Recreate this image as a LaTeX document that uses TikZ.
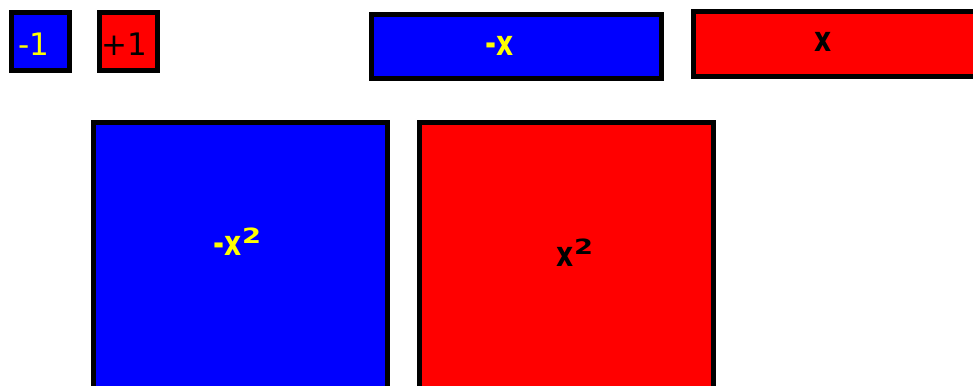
\documentclass[tikz,border=0pt]{standalone}
\usepackage{fontspec}
\usepackage{tikz}
\usetikzlibrary{positioning}
% Plain sans for the unit tiles, narrow bold sans for the variables.
\newfontfamily\numfont{DejaVu Sans}
\newfontfamily\varfont[FakeStretch=0.76]{DejaVu Sans}
\newfontfamily\supfont[FakeStretch=1.3]{DejaVu Sans}
\newcommand{\sqmark}{\raisebox{12pt}{\supfont\bfseries\fontsize{21}{21}\selectfont 2}}
\definecolor{tileblue}{RGB}{0,0,255}
\definecolor{tilered}{RGB}{255,0,0}
\definecolor{tileyellow}{RGB}{255,255,0}
\tikzset{
  tile/.style={draw=black, line width=5pt, inner sep=0pt, outer sep=0pt},
  unittile/.style={tile, minimum width=58pt, minimum height=58pt},
  longtile/.style={tile, minimum width=290pt, minimum height=65pt},
  squaretile/.style={tile, minimum width=294pt, minimum height=294pt},
  numlabel/.style={inner sep=0pt, font=\numfont\fontsize{31}{31}\selectfont},
  varlabel/.style={inner sep=0pt, font=\varfont\bfseries\fontsize{35}{35}\selectfont}
}

\begin{document}
\begin{tikzpicture}[x=1pt, y=-1pt]
  \clip (0,0) rectangle (973,385);

  % Unit tiles.
  \node[unittile, fill=tileblue] (negone) at (40.5,42) {};
  \node[unittile, fill=tilered, right=30pt of negone] (posone) {};
  \node[numlabel, tileyellow] (negonetext) at (34,44) {-1};
  \node[numlabel, black] (posonetext) at (124,44) {+1};

  % Long tiles.
  \node[longtile, fill=tileblue, minimum height=64pt] (negx) at (516.5,46.5) {};
  \node[longtile, fill=tilered] (posx) at (838.5,44) {};
  \node[varlabel, tileyellow] (negxtext) at (500,46) {-x};
  \node[varlabel, black] (posxtext) at (823,42) {x};

  % Square tiles, cut off at the bottom.
  \node[squaretile, fill=tileblue, anchor=north west] (negsq) at (93.5,122.5) {};
  \node[squaretile, fill=tilered, anchor=north west] (possq) at (419.5,122.5) {};
  \node[varlabel, tileyellow] (negsqtext) at (237.5,241.5) {-x\sqmark};
  \node[varlabel, black] (possqtext) at (575,252.5) {x\sqmark};
\end{tikzpicture}
\end{document}
